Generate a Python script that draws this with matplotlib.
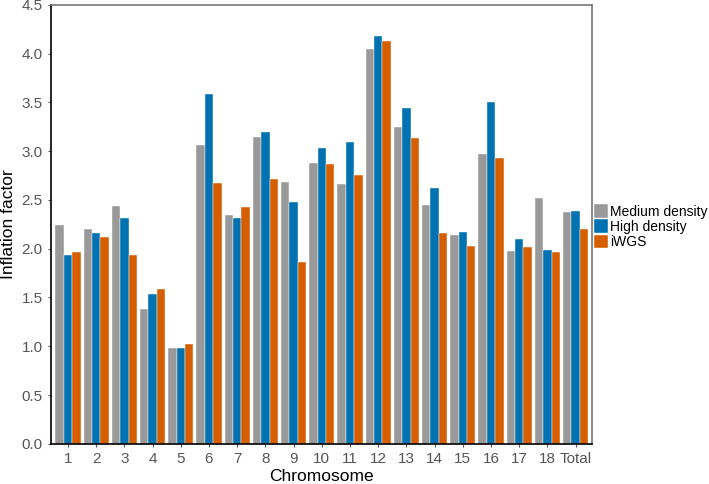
import numpy as np
import matplotlib
matplotlib.use('Agg')
import matplotlib.pyplot as plt

plt.rcParams['font.family'] = ['Liberation Sans', 'DejaVu Sans']

chromosomes = [str(i) for i in range(1, 19)] + ['Total']
medium = [2.24, 2.20, 2.44, 1.38, 0.98, 3.06, 2.35, 3.15, 2.68, 2.88,
          2.66, 4.05, 3.25, 2.45, 2.14, 2.97, 1.98, 2.52, 2.38]
high = [1.94, 2.16, 2.32, 1.54, 0.98, 3.59, 2.31, 3.20, 2.48, 3.03,
        3.09, 4.18, 3.44, 2.62, 2.17, 3.50, 2.10, 1.99, 2.39]
iwgs = [1.97, 2.12, 1.94, 1.59, 1.02, 2.67, 2.43, 2.71, 1.86, 2.87,
        2.76, 4.13, 3.13, 2.16, 2.03, 2.93, 2.02, 1.97, 2.20]

series = [('Medium density', medium, '#999999'),
          ('High density', high, '#0072B2'),
          ('iWGS', iwgs, '#D55E00')]

fig = plt.figure(figsize=(7.09, 4.84), dpi=100)
ax = fig.add_axes([0.072, 0.083, 0.763, 0.907])

x = np.arange(len(chromosomes))
w = 0.297
for i, (name, vals, col) in enumerate(series):
    ax.bar(x + (i - 1) * w, vals, width=w, color=col, label=name,
           edgecolor='white', linewidth=0.3)

ax.set_xlim(-0.6, 18.58)
ax.set_ylim(0, 4.5)
ax.set_yticks(np.arange(0, 4.51, 0.5))
ax.set_yticklabels(['%.1f' % v for v in np.arange(0, 4.51, 0.5)])
ax.set_xticks(x)
ax.set_xticklabels(chromosomes)
ax.tick_params(axis='both', labelsize=11, labelcolor='#555555', length=2.5,
               color='#555555')

for s in ['left', 'bottom']:
    ax.spines[s].set_color('black')
    ax.spines[s].set_linewidth(1.2)
for s in ['top', 'right']:
    ax.spines[s].set_color('#777777')
    ax.spines[s].set_linewidth(1.2)

ax.set_xlabel('Chromosome', fontsize=12.5, labelpad=2)
ax.set_ylabel('Inflation factor', fontsize=12.5, labelpad=4)

ax.legend(loc='center left', bbox_to_anchor=(1.003, 0.495), frameon=False,
          fontsize=10, handlelength=1.05, handleheight=1.15,
          handletextpad=0.15, labelspacing=0.05, borderpad=0.0,
          borderaxespad=0.0)

fig.savefig('out.png', dpi=100)
